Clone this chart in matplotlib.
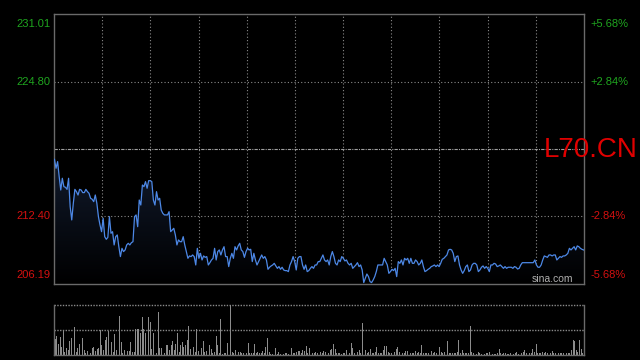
import matplotlib
matplotlib.use("Agg")
import matplotlib.pyplot as plt
import numpy as np
from matplotlib.colors import LinearSegmentedColormap

# ---- data ----
prev_close = 218.60
y_labels_left = ["231.01", "224.80", "212.40", "206.19"]
y_values = [231.01, 224.80, 212.40, 206.19]
y_labels_right = ["+5.68%", "+2.84%", "-2.84%", "-5.68%"]

prices = [
    217.65, 216.83, 217.44, 216.06, 214.83, 215.91, 215.14, 215.08, 214.89, 215.91,
    213.30, 212.08, 213.61, 214.89, 214.68, 214.37, 214.89, 214.83, 214.59, 214.59,
    214.89, 214.68, 214.53, 214.07, 213.98, 213.76, 214.37, 213.61, 212.38, 211.62,
    211.00, 212.23, 210.54, 210.30, 210.48, 212.38, 210.85, 211.00, 209.78, 210.54,
    210.70, 209.62, 208.71, 209.47, 209.17, 209.32, 209.78, 209.93, 209.78, 209.99,
    210.08, 212.38, 212.54, 211.46, 213.91, 213.45, 215.29,
    215.14, 215.60, 214.99, 215.69, 215.69, 215.60, 213.91, 213.45, 214.68, 213.91,
    214.07, 212.99, 212.69, 212.54, 212.54, 212.54, 212.84, 211.00, 211.16, 211.31,
    210.70, 209.78, 210.24, 210.08, 210.08, 210.54, 209.78, 209.17, 208.55, 208.77,
    208.71, 208.86, 208.71, 207.94, 209.47, 208.55, 209.01, 208.40, 208.77, 208.64,
    208.71, 207.94, 208.15, 208.40, 208.55, 209.47, 208.40, 209.17, 209.32, 208.86,
    209.32, 209.62, 208.71, 208.71, 207.79, 208.55, 209.01, 208.55, 209.62,
    209.32, 209.69, 209.93, 209.32, 209.17, 208.64, 209.17, 209.47, 209.32, 209.38,
    208.25, 209.01, 208.40, 207.94, 208.25, 208.55, 208.86, 208.55, 208.71, 208.40,
    207.54, 207.73, 207.85, 207.94, 208.09, 207.85, 207.63, 207.79, 207.54, 207.73,
    207.48, 207.42, 207.42, 207.33, 207.94, 208.25, 208.71, 208.25, 207.48, 208.55,
    208.71, 208.71, 207.94, 207.54, 207.94, 207.33, 207.42, 207.63, 207.79, 207.63,
    207.94, 207.94, 208.25, 208.25, 208.55, 208.86, 208.40, 208.25,
    208.40, 207.94, 208.71, 209.17, 208.71, 208.09, 207.94, 208.40, 208.25, 208.71,
    208.55, 208.31, 208.40, 208.09, 207.94, 208.09, 207.63, 207.79, 207.94, 208.15,
    207.79, 207.94, 207.48, 206.32, 206.71, 207.11, 206.87, 206.41, 206.32, 206.56,
    206.87, 207.33, 207.94, 207.94, 207.94, 207.94, 208.55, 208.25, 207.94, 207.17,
    207.33, 207.54, 207.42, 207.63, 206.87, 208.25, 208.09, 208.40, 207.94, 208.55,
    208.40, 208.55, 208.09, 208.55, 208.09, 208.09, 208.40,
    208.25, 207.94, 208.09, 208.40, 207.79, 207.33, 207.42, 207.54, 207.63, 207.79,
    207.85, 207.94, 207.79, 207.94, 207.79, 208.09, 208.46, 208.55, 208.71, 208.86,
    209.32, 209.38, 209.32, 209.01, 208.25, 208.71, 208.77, 207.94, 207.48, 207.17,
    207.42, 207.79, 207.94, 207.33, 207.48, 207.94, 208.09, 208.09, 207.94, 207.33,
    207.48, 207.73, 207.85, 207.63, 207.79, 207.63, 207.33, 207.94, 207.94, 208.09,
    208.03, 207.79, 207.85, 207.94, 207.79, 207.63, 207.79,
    207.63, 207.73, 207.73, 207.73, 207.63, 207.79, 207.73, 207.57, 207.63, 207.94,
    208.15, 208.15, 208.15, 208.15, 208.15, 208.15, 208.15, 208.15, 208.40, 207.94,
    207.73, 207.73, 207.94, 208.40, 208.77, 208.71, 208.64, 208.86, 208.86, 208.77,
    208.86, 208.86, 208.40, 208.55, 208.71, 208.64, 208.77, 208.77, 208.86, 209.01,
    209.47, 209.32, 209.47, 209.62, 209.32, 209.69, 209.62, 209.47, 209.38, 209.32,
]

volumes = [
    46, 56, 32, 52, 24, 74, 9, 19, 14, 42, 49, 49, 82, 9, 19, 32, 82, 49, 14, 6,
    12, 41, 4, 19, 24, 12, 16, 19, 74, 29, 14, 44, 54, 70, 34, 39, 9, 62, 14, 19,
    116, 37, 6, 14, 11, 11, 11, 37, 8, 8, 76, 76, 76, 66, 112, 76, 64, 76, 114, 98,
    16, 64, 44, 6, 128, 21, 21, 11, 6, 29, 29, 14, 29, 41, 14, 31, 64, 9, 29, 39,
    24, 29, 44, 86, 16, 9, 24, 9, 76, 11, 31, 19, 41, 9, 11, 22, 29, 16, 4, 9,
    56, 29, 6, 106, 2, 6, 6, 34, 34, 150, 9, 6, 14, 9, 9, 9, 4, 4, 8, 4,
    36, 4, 6, 4, 32, 6, 9, 4, 4, 11, 4, 24, 51, 9, 2, 2, 2, 19, 2, 8,
    2, 2, 2, 6, 4, 2, 4, 19, 4, 4, 8, 12, 10, 6, 14, 11, 26, 6, 19, 4,
    4, 4, 8, 4, 12, 9,
    6, 11, 9, 6, 4, 14, 16, 32, 18, 6, 6, 4, 2, 6, 6, 14, 4, 4, 36, 19,
    6, 8, 9, 14, 4, 96, 4, 14, 6, 9, 16, 4, 6, 9, 24, 4, 4, 6, 14, 26,
    26, 8, 4, 6, 44, 9, 16, 22, 9, 6, 4, 6, 11, 11, 19, 4, 4, 6, 11, 4,
    9, 4, 29, 4, 4, 6, 6, 4, 11, 4, 8, 4, 4, 22, 9, 4, 8, 4, 41, 4,
    4, 6, 4, 6, 8, 44, 4, 14, 4, 4, 4, 4, 86, 9, 4, 2, 2, 8, 4, 2,
    4, 2, 4, 6, 8, 2, 2, 2, 2, 4, 16, 4, 2, 4, 4, 2, 2, 4, 2, 2,
    4, 8, 2, 4, 4, 8, 14, 4, 4, 4, 6, 16, 8, 32, 4, 4, 6, 8, 6, 9,
    6, 16, 4, 10, 4, 6, 4, 4, 6, 4, 4, 14, 6, 6, 4, 14, 44, 42, 14, 8,
    44, 16, 4,
]

# ---- figure ----
plt.rcParams['font.family'] = ['Liberation Sans', 'DejaVu Sans']
fig = plt.figure(figsize=(6.4, 3.6), dpi=100, facecolor='black')

L, R = 54 / 640, 584 / 640
ax = fig.add_axes([L, 1 - 284 / 360, R - L, 270 / 360])
axv = fig.add_axes([L, 1 - 354.7 / 360, R - L, 50 / 360])

grid_c = '#8a8a8a'
spine_c = '#6a6a6a'
for a in (ax, axv):
    a.set_facecolor('black')
    a.set_xticks([])
    a.set_yticks([])
    for s in a.spines.values():
        s.set_color(spine_c)
        s.set_linewidth(1.0)

n = len(prices)
x = np.arange(n)
ymin, ymax = y_values[-1], y_values[0]
ax.set_xlim(-0.3, n - 0.7)
ax.set_ylim(ymin, ymax)

# vertical grid
for k in range(1, 11):
    xv = -0.3 + (n - 0.4) * k / 11
    ax.axvline(xv, color=grid_c, lw=0.8, ls=(0, (1, 2)), zorder=1)
# horizontal grid
for v in (y_values[1], y_values[2]):
    ax.axhline(v, color=grid_c, lw=0.8, ls=(0, (1, 2)), zorder=1)
ax.axhline(prev_close, color='#a0a0a0', lw=0.8, ls=(0, (3, 1, 1, 1)), zorder=1)

# gradient fill under line
poly = ax.fill_between(x, prices, ymin, color='none', lw=0)
cmap = LinearSegmentedColormap.from_list('g', ['#000000', '#111a2c'])
grad = np.linspace(0, 1, 256).reshape(-1, 1)
top_p = max(prices)
im = ax.imshow(grad, cmap=cmap, aspect='auto', origin='lower',
               extent=[x[0], x[-1], ymin, top_p], zorder=2)
path = poly.get_paths()[0]
im.set_clip_path(path, transform=ax.transData)

ax.plot(x, prices, color='#4d88e6', lw=0.9, zorder=3)
ax.set_xlim(-0.3, n - 0.7)
ax.set_ylim(ymin, ymax)

# labels
green, red = '#1fa51f', '#d41010'
cols = [green, green, red, red]
vas = ['top', 'center', 'center', 'bottom']
offs = [-0.45, 0, 0, 0.35]
for lab, v, c, va, o, rl in zip(y_labels_left, y_values, cols, vas, offs, y_labels_right):
    ax.text(-0.006, v + o, lab, transform=ax.get_yaxis_transform(), ha='right', va=va,
            color=c, fontsize=8)
    ax.text(1.012, v + o, rl, transform=ax.get_yaxis_transform(), ha='left', va=va,
            color=c, fontsize=8)

fig.text(544 / 640, 1 - 150 / 360, 'L70.CN', color='#e00000', fontsize=20,
         ha='left', va='center')
fig.text(532 / 640, 1 - 279 / 360, 'sina.com', color='#b0b0b0', fontsize=7.5,
         ha='left', va='center')

# volume
nv = len(volumes)
xv_ = np.arange(nv)
axv.bar(xv_, volumes, width=0.55, color='#8c8c8c', lw=0)
axv.set_xlim(-0.8, nv - 0.2)
axv.set_ylim(0, 150)
axv.spines['top'].set_visible(False)
axv.axhline(150, color=grid_c, lw=1.0, ls=(0, (1, 1)), clip_on=False)
axv.axhline(75, color=grid_c, lw=1.0, ls=(0, (1, 1)))

fig.savefig('out.png', dpi=100, facecolor='black')
